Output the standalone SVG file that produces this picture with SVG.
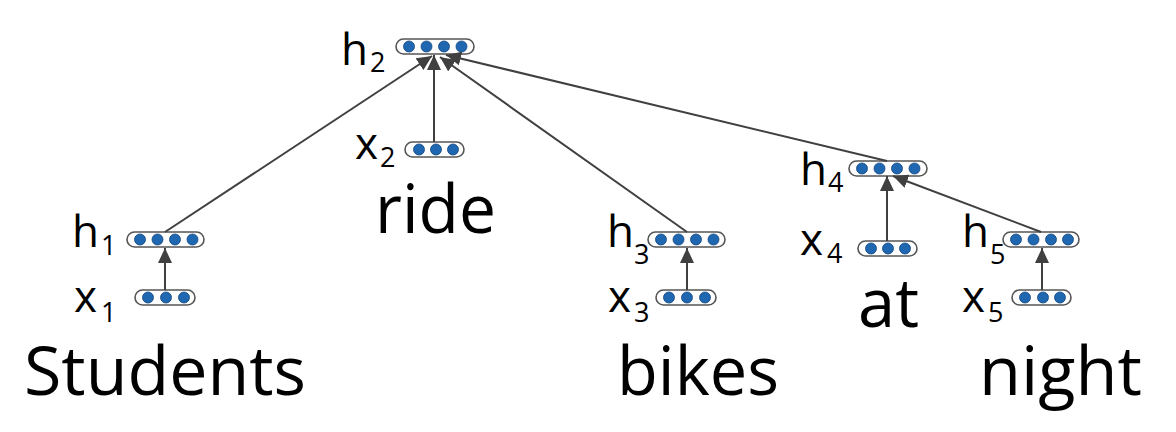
<svg xmlns="http://www.w3.org/2000/svg" width="1176" height="432" viewBox="0 0 1176 432">
<style>
.vec{fill:#fff;stroke:#555;stroke-width:1.6}
.dot{fill:#1f67b1;stroke:#15487c;stroke-width:0.8}
.lbl{font-family:"Open Sans","Noto Sans",sans-serif;font-size:44px;fill:#000}
.sub{font-family:"Open Sans","Noto Sans",sans-serif;font-size:27px;fill:#000}
.word{font-family:"Open Sans","Noto Sans",sans-serif;font-size:68px;fill:#000}
.edge{stroke:#404040;stroke-width:2;fill:none;marker-end:url(#ah)}
</style>
<defs>
<marker id="ah" markerUnits="userSpaceOnUse" viewBox="0 0 15 14" markerWidth="15" markerHeight="14" refX="15" refY="7" orient="auto">
<path d="M0,0 L15,7 L0,14 z" fill="#404040"/>
</marker>
</defs>
<rect width="1176" height="432" fill="#fff"/>

<g id="h2">
<rect class="vec" x="396" y="39" width="78" height="15" rx="7.5"/>
<circle class="dot" cx="409" cy="46.5" r="5.5"/><circle class="dot" cx="426.5" cy="46.5" r="5.5"/><circle class="dot" cx="444" cy="46.5" r="5.5"/><circle class="dot" cx="461.5" cy="46.5" r="5.5"/>
<text class="lbl" x="341" y="65">h</text><text class="sub" x="370" y="72">2</text>
</g>
<g id="x2">
<rect class="vec" x="405" y="142" width="59" height="15" rx="7.5"/>
<circle class="dot" cx="419" cy="149.5" r="5.5"/><circle class="dot" cx="436" cy="149.5" r="5.5"/><circle class="dot" cx="453" cy="149.5" r="5.5"/>
<text class="lbl" x="355" y="159">x</text><text class="sub" x="380" y="167">2</text>
</g>
<g id="h1">
<rect class="vec" x="127" y="232" width="77" height="15" rx="7.5"/>
<circle class="dot" cx="140" cy="239.5" r="5.5"/><circle class="dot" cx="157.5" cy="239.5" r="5.5"/><circle class="dot" cx="175" cy="239.5" r="5.5"/><circle class="dot" cx="192.5" cy="239.5" r="5.5"/>
<text class="lbl" x="72" y="247">h</text><text class="sub" x="101" y="255">1</text>
</g>
<g id="x1">
<rect class="vec" x="135" y="290" width="60" height="15" rx="7.5"/>
<circle class="dot" cx="148" cy="297.5" r="5.5"/><circle class="dot" cx="166" cy="297.5" r="5.5"/><circle class="dot" cx="184" cy="297.5" r="5.5"/>
<text class="lbl" x="74" y="312">x</text><text class="sub" x="101" y="322">1</text>
</g>
<g id="h3">
<rect class="vec" x="648" y="232" width="77" height="15" rx="7.5"/>
<circle class="dot" cx="661" cy="239.5" r="5.5"/><circle class="dot" cx="678.5" cy="239.5" r="5.5"/><circle class="dot" cx="696" cy="239.5" r="5.5"/><circle class="dot" cx="713.5" cy="239.5" r="5.5"/>
<text class="lbl" x="607" y="247">h</text><text class="sub" x="634" y="264">3</text>
</g>
<g id="x3">
<rect class="vec" x="656" y="290" width="60" height="15" rx="7.5"/>
<circle class="dot" cx="669" cy="297.5" r="5.5"/><circle class="dot" cx="687" cy="297.5" r="5.5"/><circle class="dot" cx="705" cy="297.5" r="5.5"/>
<text class="lbl" x="608" y="312">x</text><text class="sub" x="634" y="322">3</text>
</g>
<g id="h4">
<rect class="vec" x="849" y="161" width="78" height="15" rx="7.5"/>
<circle class="dot" cx="862" cy="168.5" r="5.5"/><circle class="dot" cx="879.5" cy="168.5" r="5.5"/><circle class="dot" cx="897" cy="168.5" r="5.5"/><circle class="dot" cx="914.5" cy="168.5" r="5.5"/>
<text class="lbl" x="800" y="185">h</text><text class="sub" x="828" y="192">4</text>
</g>
<g id="x4">
<rect class="vec" x="858" y="241" width="59" height="15" rx="7.5"/>
<circle class="dot" cx="871" cy="248.5" r="5.5"/><circle class="dot" cx="888" cy="248.5" r="5.5"/><circle class="dot" cx="905" cy="248.5" r="5.5"/>
<text class="lbl" x="800" y="255">x</text><text class="sub" x="827" y="263">4</text>
</g>
<g id="h5">
<rect class="vec" x="1003" y="232" width="76" height="15" rx="7.5"/>
<circle class="dot" cx="1016" cy="239.5" r="5.5"/><circle class="dot" cx="1033.5" cy="239.5" r="5.5"/><circle class="dot" cx="1051" cy="239.5" r="5.5"/><circle class="dot" cx="1068" cy="239.5" r="5.5"/>
<text class="lbl" x="962" y="247">h</text><text class="sub" x="990" y="264">5</text>
</g>
<g id="x5">
<rect class="vec" x="1012" y="290" width="59" height="15" rx="7.5"/>
<circle class="dot" cx="1025" cy="297.5" r="5.5"/><circle class="dot" cx="1043" cy="297.5" r="5.5"/><circle class="dot" cx="1060" cy="297.5" r="5.5"/>
<text class="lbl" x="962" y="312">x</text><text class="sub" x="988" y="322">5</text>
</g>

<g id="words">
<text class="word" x="24" y="395" textLength="282" lengthAdjust="spacingAndGlyphs">Students</text>
<text class="word" x="375" y="233" textLength="121" lengthAdjust="spacingAndGlyphs">ride</text>
<text class="word" x="617" y="395" textLength="162" lengthAdjust="spacingAndGlyphs">bikes</text>
<text class="word" x="858" y="327" textLength="61" lengthAdjust="spacingAndGlyphs">at</text>
<text class="word" x="979" y="395" textLength="163" lengthAdjust="spacingAndGlyphs">night</text>
</g>

<g id="connectors">
<line class="edge" x1="165" y1="232" x2="432" y2="56"/>
<line class="edge" x1="434" y1="142" x2="434" y2="55"/>
<line class="edge" x1="687" y1="232" x2="440" y2="57"/>
<line class="edge" x1="887" y1="161" x2="446" y2="55"/>
<line class="edge" x1="165" y1="290" x2="165" y2="248"/>
<line class="edge" x1="687" y1="290" x2="687" y2="248"/>
<line class="edge" x1="887" y1="241" x2="887" y2="176"/>
<line class="edge" x1="1041" y1="232" x2="893" y2="176"/>
<line class="edge" x1="1042" y1="290" x2="1042" y2="248"/>
</g>
</svg>
